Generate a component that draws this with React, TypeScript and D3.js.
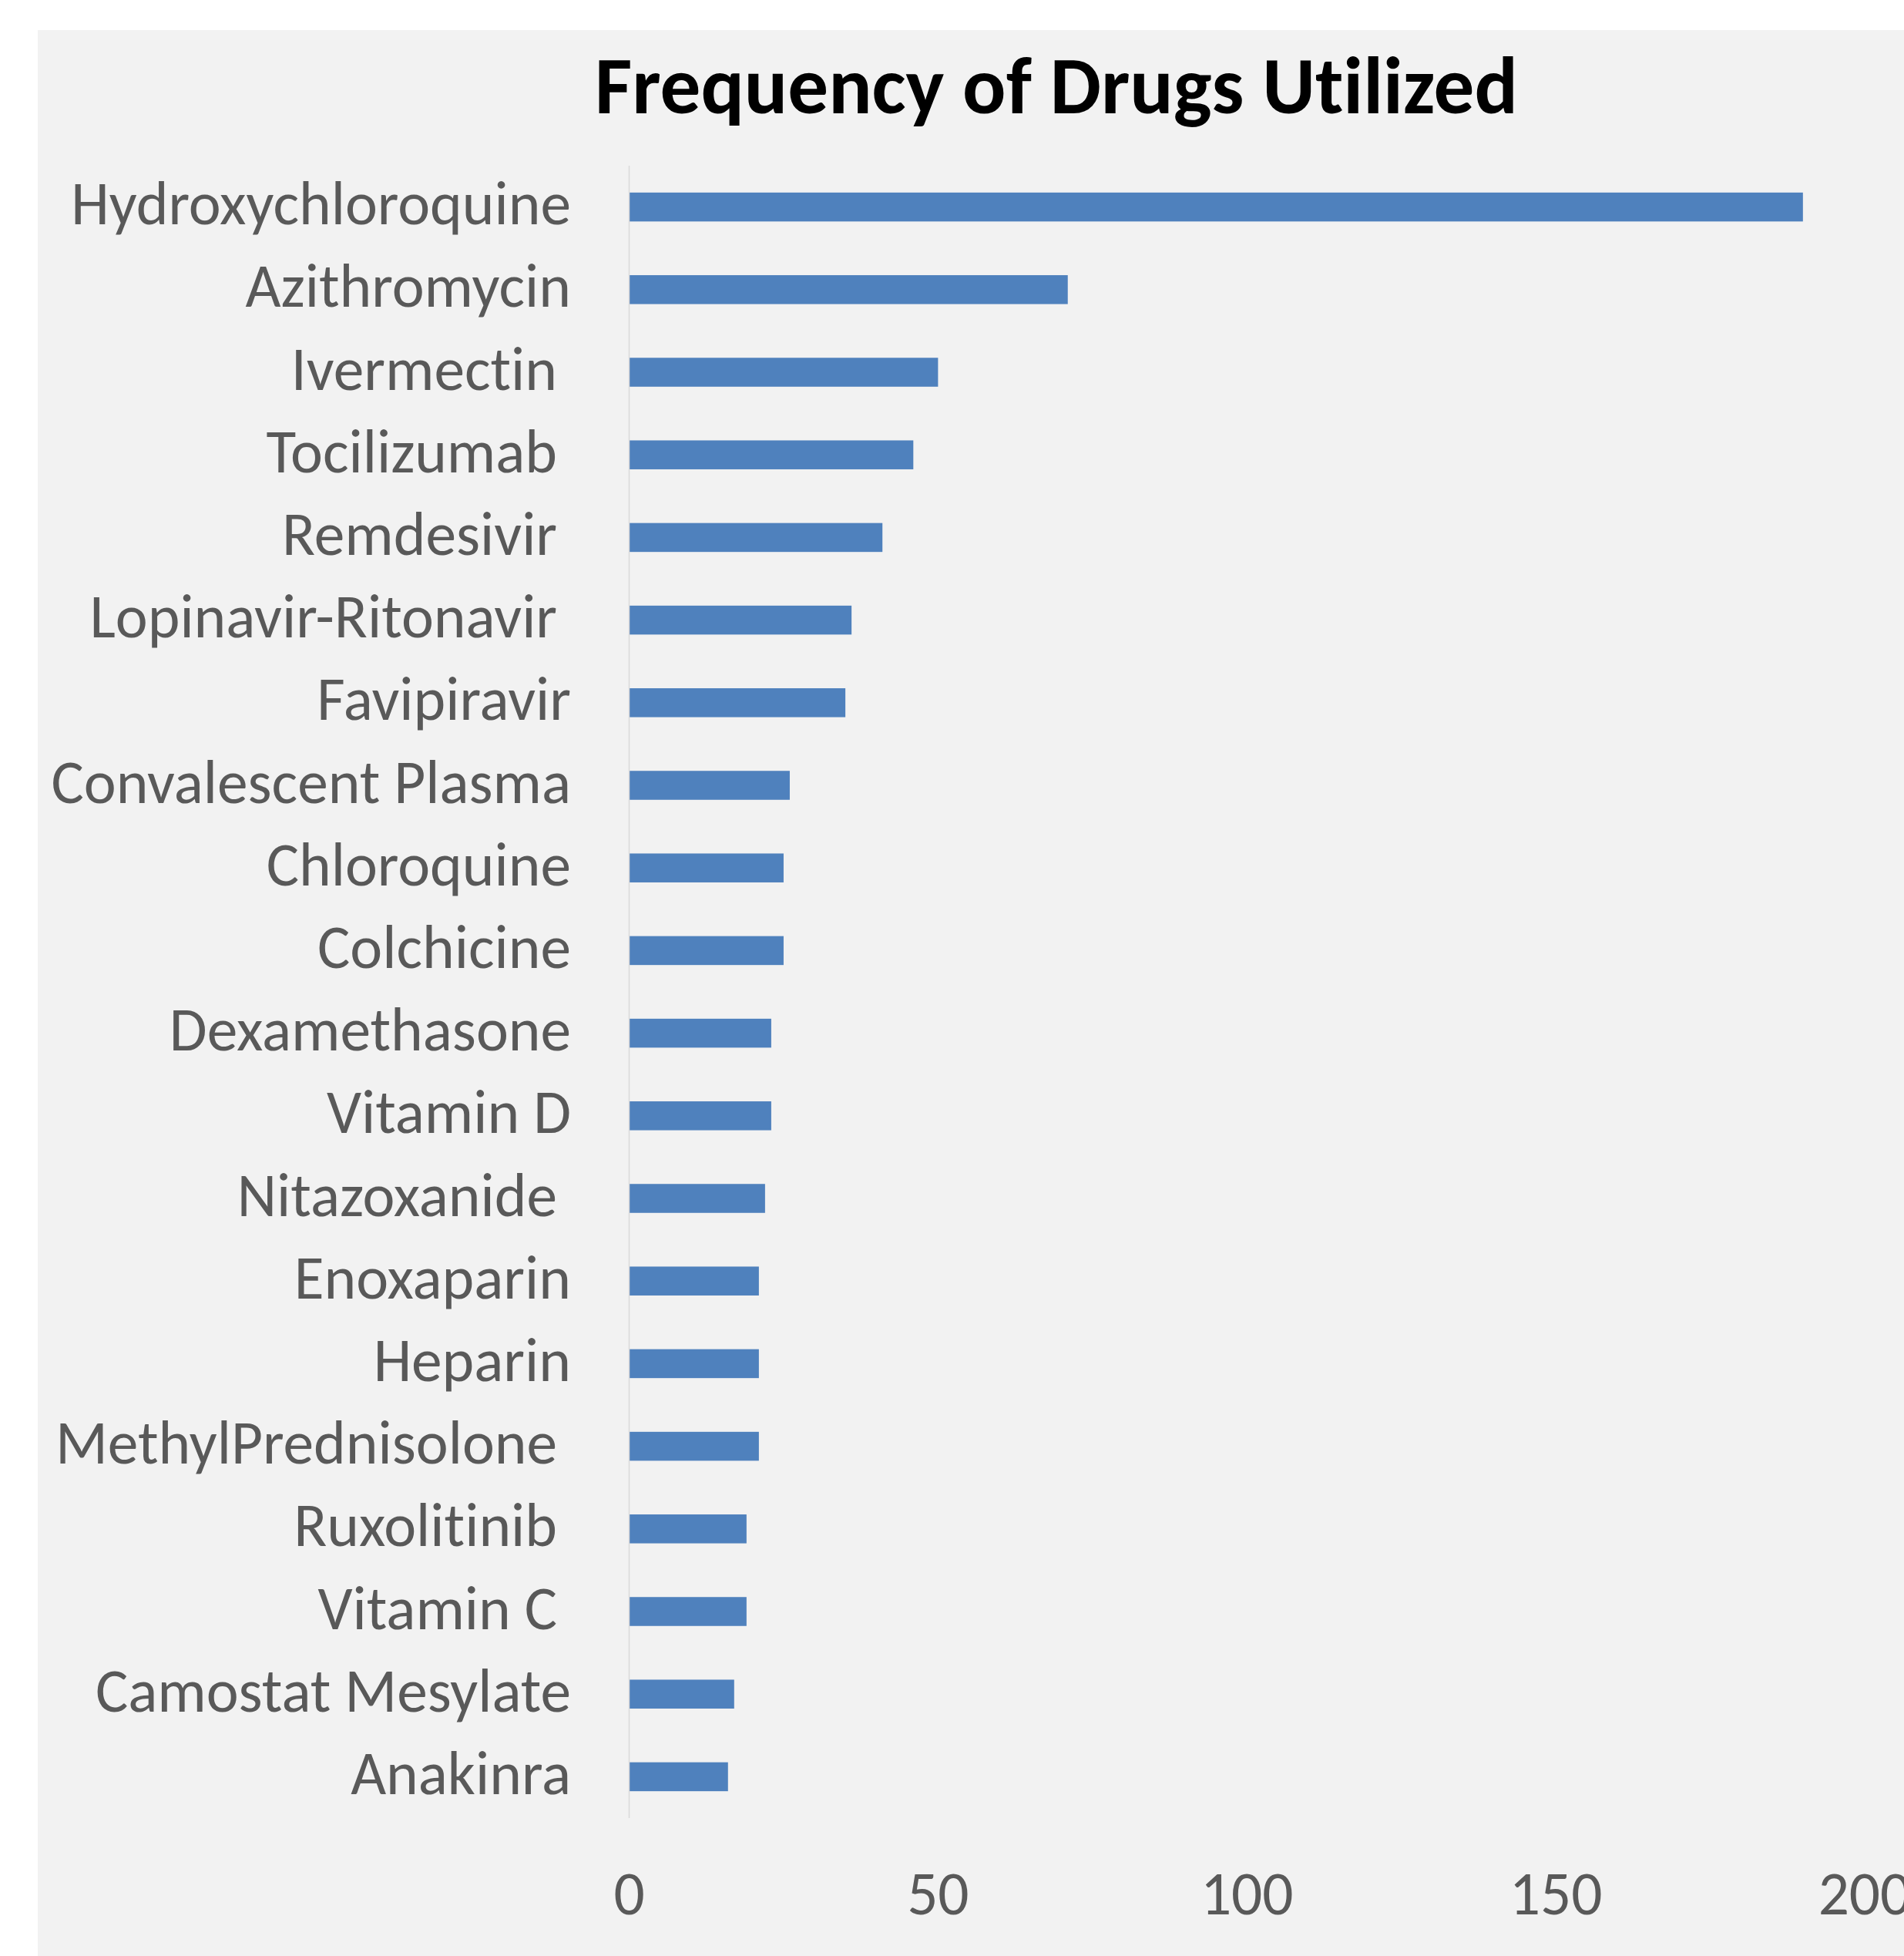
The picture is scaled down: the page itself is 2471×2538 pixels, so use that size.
import { useEffect, useRef } from "react";
import * as d3 from "d3";

const drugs: string[] = [
  "Hydroxychloroquine",
  "Azithromycin",
  "Ivermectin ",
  "Tocilizumab ",
  "Remdesivir ",
  "Lopinavir-Ritonavir ",
  "Favipiravir",
  "Convalescent Plasma",
  "Chloroquine",
  "Colchicine",
  "Dexamethasone",
  "Vitamin D",
  "Nitazoxanide ",
  "Enoxaparin",
  "Heparin",
  "MethylPrednisolone ",
  "Ruxolitinib ",
  "Vitamin C ",
  "Camostat Mesylate",
  "Anakinra",
];

const counts: number[] = [190, 71, 50, 46, 41, 36, 35, 26, 25, 25, 23, 23, 22, 21, 21, 21, 19, 19, 17, 16];

const xTicks: number[] = [0, 50, 100, 150, 200];

const TITLE = "Frequency of Drugs Utilized";
const W = 2471;
const H = 2538;
const BAR = "#4F81BD";
const TEXT = "#595959";
const BG = "#F2F2F2";
const FONT = "Calibri, Carlito, Lato, 'Open Sans', sans-serif";

export default function App() {
  const svgRef = useRef<SVGSVGElement>(null);

  useEffect(() => {
    const svgEl = svgRef.current;
    if (!svgEl) return;
    const svg = d3.select(svgEl);
    svg.selectAll("*").remove();

    const plot = { left: 816.5, right: 2420, top: 215, bottom: 2359 };
    const labelRight = 741;

    svg
      .append("rect")
      .attr("x", 49)
      .attr("y", 39)
      .attr("width", W - 49)
      .attr("height", H - 39)
      .attr("fill", BG);

    const x = d3.scaleLinear().domain([0, 200]).range([plot.left, plot.right]);
    const y = d3
      .scaleBand<string>()
      .domain(drugs)
      .range([plot.top, plot.bottom])
      .paddingInner(0.65)
      .paddingOuter(0.325);

    // fit font sizes to the widths measured on the reference
    const probe = svg
      .append("text")
      .attr("font-family", FONT)
      .attr("font-size", 100)
      .style("font-variant-ligatures", "none")
      .text("Hydroxychloroquine");
    const labelSize = (100 * 649) / (probe.node() as SVGTextElement).getComputedTextLength();
    probe.attr("font-weight", 700).text(TITLE);
    const titleSize = (100 * 1198) / (probe.node() as SVGTextElement).getComputedTextLength();
    probe.remove();

    svg
      .append("text")
      .attr("x", 1371)
      .attr("y", 147)
      .attr("text-anchor", "middle")
      .attr("font-family", FONT)
      .attr("font-weight", 700)
      .attr("font-size", titleSize)
      .attr("fill", "#000")
      .style("font-variant-ligatures", "none")
      .text(TITLE);

    svg
      .append("g")
      .selectAll("rect")
      .data(drugs)
      .enter()
      .append("rect")
      .attr("x", x(0))
      .attr("y", (d) => y(d)!)
      .attr("width", (_, i) => x(counts[i]) - x(0))
      .attr("height", y.bandwidth())
      .attr("fill", BAR);

    svg
      .append("line")
      .attr("x1", x(0))
      .attr("x2", x(0))
      .attr("y1", plot.top)
      .attr("y2", plot.bottom)
      .attr("stroke", "#D9D9D9")
      .attr("stroke-width", 1.5);

    svg
      .append("g")
      .selectAll("text")
      .data(drugs)
      .enter()
      .append("text")
      .attr("x", labelRight)
      .attr("y", (d) => y(d)! + y.bandwidth() / 2 + 22.5)
      .attr("text-anchor", "end")
      .attr("font-family", FONT)
      .attr("font-size", labelSize)
      .attr("fill", TEXT)
      .style("white-space", "pre")
      .style("font-variant-ligatures", "none")
      .text((d) => d);

    svg
      .append("g")
      .selectAll("text")
      .data(xTicks)
      .enter()
      .append("text")
      .attr("x", (d) => x(d))
      .attr("y", 2484)
      .attr("text-anchor", "middle")
      .attr("font-family", FONT)
      .attr("font-size", labelSize)
      .attr("fill", TEXT)
      .text((d) => String(d));
  }, []);

  return (
    <svg
      ref={svgRef}
      width={W}
      height={H}
      style={{ position: "absolute", left: 0, top: 0, display: "block", background: "#fff" }}
    />
  );
}
